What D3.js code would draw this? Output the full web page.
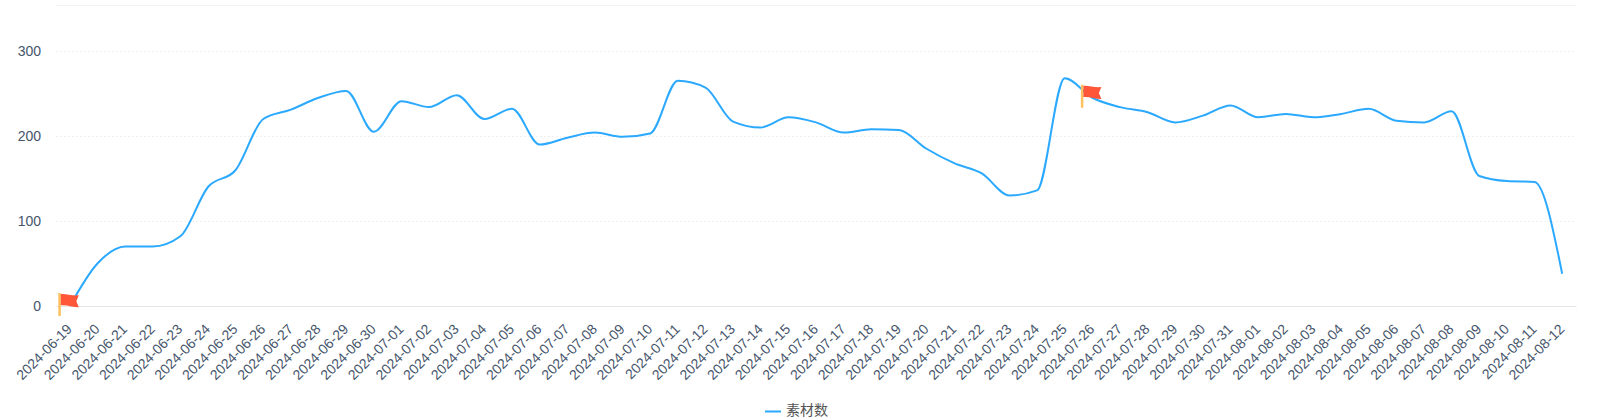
<!DOCTYPE html>
<html>
<head>
<meta charset="utf-8">
<script src="https://cdn.jsdelivr.net/npm/d3@7"></script>
<style>
  html, body { margin: 0; background: #fff; }
  svg { display: block; font-family: "Liberation Sans", Arial, sans-serif; }
</style>
</head>
<body>
<svg width="1597" height="418"></svg>
<script>
const dates = [
  '2024-06-19', '2024-06-20', '2024-06-21', '2024-06-22', '2024-06-23', '2024-06-24', '2024-06-25',
  '2024-06-26', '2024-06-27', '2024-06-28', '2024-06-29', '2024-06-30', '2024-07-01', '2024-07-02',
  '2024-07-03', '2024-07-04', '2024-07-05', '2024-07-06', '2024-07-07', '2024-07-08', '2024-07-09',
  '2024-07-10', '2024-07-11', '2024-07-12', '2024-07-13', '2024-07-14', '2024-07-15', '2024-07-16',
  '2024-07-17', '2024-07-18', '2024-07-19', '2024-07-20', '2024-07-21', '2024-07-22', '2024-07-23',
  '2024-07-24', '2024-07-25', '2024-07-26', '2024-07-27', '2024-07-28', '2024-07-29', '2024-07-30',
  '2024-07-31', '2024-08-01', '2024-08-02', '2024-08-03', '2024-08-04', '2024-08-05', '2024-08-06',
  '2024-08-07', '2024-08-08', '2024-08-09', '2024-08-10', '2024-08-11', '2024-08-12',
];
const values = [
  0, 50, 70, 70, 82, 140, 160, 220, 231, 245, 253, 205, 241, 234, 248, 220, 232, 190, 198,
  204, 199, 203, 265, 257, 217, 210, 222, 216, 204, 208, 207, 185, 168, 156, 130, 136, 268,
  245, 234, 228, 216, 224, 236, 222, 226, 222, 226, 232, 218, 216, 229, 153, 147, 146, 38,
];
const yTicks = [0, 100, 200, 300];
const flagDates = ['2024-06-19', '2024-07-26'];
const seriesName = '素材数';

const svg = d3.select('svg');
const plotLeft = 56, plotRight = 1576, plotBottom = 306, plotTop = 5.5;
const blue = '#2aa9ff';
const labelColor = '#46556b';

const x = d3.scaleBand().domain(dates).range([plotLeft, plotRight]);
const y = d3.scaleLinear().domain([0, 300]).range([plotBottom, 51]);
const px = (d) => x(d) + x.bandwidth() / 2;

// Horizontal grid, the bottom one is the axis line
svg
  .append('g')
  .selectAll('line')
  .data(yTicks.filter((d) => d > 0))
  .join('line')
  .attr('x1', plotLeft)
  .attr('x2', plotRight)
  .attr('y1', (d) => y(d) + 0.5)
  .attr('y2', (d) => y(d) + 0.5)
  .attr('stroke', '#f0f0f0')
  .attr('stroke-dasharray', '2,2');

svg
  .append('line')
  .attr('x1', plotLeft)
  .attr('x2', plotRight)
  .attr('y1', plotTop)
  .attr('y2', plotTop)
  .attr('stroke', '#f3f3f3');

// Y axis labels
const yAxis = svg
  .append('g')
  .attr('transform', `translate(${plotLeft},0)`)
  .call(d3.axisLeft(y).tickValues(yTicks).tickSize(0).tickPadding(15));
yAxis.select('.domain').remove();
yAxis.selectAll('text').attr('font-size', 14).attr('font-family', 'inherit').attr('fill', labelColor);

// X axis with rotated labels
const xAxis = svg
  .append('g')
  .attr('transform', `translate(0,${plotBottom})`)
  .call(d3.axisBottom(x).tickSize(0).tickPadding(0));
xAxis.select('.domain').attr('stroke', '#e6e6e6').attr('stroke-width', 1);
xAxis
  .selectAll('text')
  .attr('font-size', 14)
  .attr('font-family', 'inherit')
  .attr('fill', labelColor)
  .attr('text-anchor', 'end')
  .attr('dy', null)
  .attr('y', 0)
  .attr('transform', 'translate(3,24) rotate(-45)');

// The series line
const line = d3
  .line()
  .x((d, i) => px(dates[i]))
  .y((d) => y(d))
  .curve(d3.curveMonotoneX);

svg
  .append('path')
  .datum(values)
  .attr('fill', 'none')
  .attr('stroke', blue)
  .attr('stroke-width', 2)
  .attr('stroke-linejoin', 'round')
  .attr('d', line);

// Flag markers, drawn around their data point
const flags = svg
  .append('g')
  .selectAll('g')
  .data(flagDates)
  .join('g')
  .attr('transform', (d) => `translate(${px(d)},${y(values[dates.indexOf(d)])})`);

flags
  .append('rect')
  .attr('x', -11.5)
  .attr('y', -13)
  .attr('width', 2.5)
  .attr('height', 23)
  .attr('fill', '#ffc15e');

flags
  .append('path')
  .attr('d', 'M-9,-12 C-4,-12.5 2,-10 9,-10.7 L6.5,-4.7 L9,1.3 C3,1.5 -3,-1.5 -9,-0.7 Z')
  .attr('fill', '#ff5538');

// Legend
svg
  .append('line')
  .attr('x1', 765)
  .attr('x2', 781)
  .attr('y1', 411.5)
  .attr('y2', 411.5)
  .attr('stroke', blue)
  .attr('stroke-width', 2);

svg
  .append('text')
  .attr('x', 786)
  .attr('y', 415)
  .attr('font-size', 14)
  .attr('font-family', '"Noto Sans CJK SC", sans-serif')
  .attr('fill', '#555')
  .text(seriesName);
</script>
</body>
</html>
